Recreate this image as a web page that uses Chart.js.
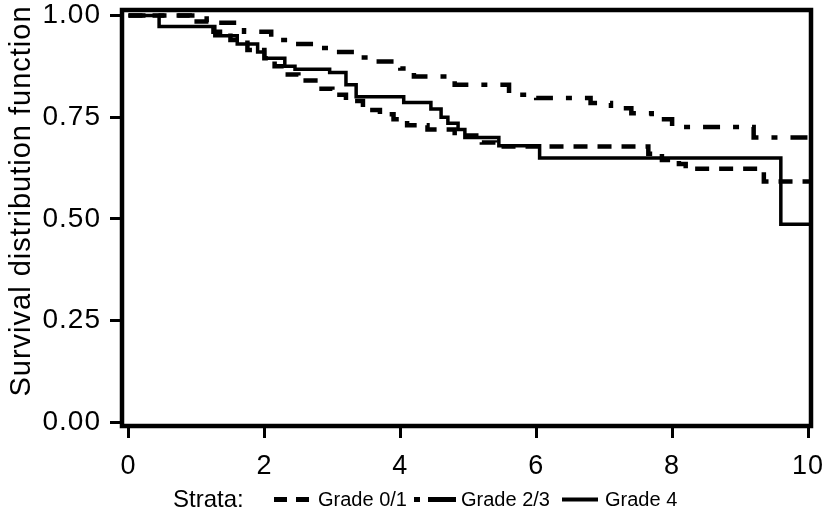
<!DOCTYPE html>
<html>
<head>
<meta charset="utf-8">
<script src="https://cdn.jsdelivr.net/npm/chart.js@4.4.1/dist/chart.umd.min.js"></script>
<style>
  body { margin: 0; background: #fff; }
  #wrap { position: relative; width: 822px; height: 516px; font-family: "Liberation Sans", Arial, Helvetica, sans-serif; color: #000; }
  .lg { position: absolute; top: 485px; height: 28px; line-height: 28px; white-space: nowrap; }
  .lg svg { display: block; margin-top: 12px; }
  #ytitle { position: absolute; left: -181px; top: 183px; width: 402px; height: 36px; line-height: 36px;
            text-align: center; font-size: 29px; letter-spacing: 1px; white-space: nowrap;
            transform: rotate(-90deg); transform-origin: 50% 50%; }
</style>
</head>
<body>
<div id="wrap">
  <canvas id="km" width="822" height="516"></canvas>
  <div id="ytitle">Survival distribution function</div>
  <div class="lg" style="left:173px; font-size:24px;">Strata:</div>
  <div class="lg" style="left:274px;"><svg width="40" height="5"><line x1="0" y1="2.5" x2="40" y2="2.5" stroke="#000" stroke-width="5" stroke-dasharray="13 9"/></svg></div>
  <div class="lg" style="left:318px; font-size:20px;">Grade 0/1</div>
  <div class="lg" style="left:414px;"><svg width="42" height="5"><line x1="0" y1="2.5" x2="42" y2="2.5" stroke="#000" stroke-width="5" stroke-dasharray="6 8 28 8"/></svg></div>
  <div class="lg" style="left:461px; font-size:20px;">Grade 2/3</div>
  <div class="lg" style="left:562px;"><svg width="36" height="5"><line x1="0" y1="2.5" x2="36" y2="2.5" stroke="#000" stroke-width="4"/></svg></div>
  <div class="lg" style="left:605px; font-size:20px;">Grade 4</div>
</div>
<script>
// Kaplan-Meier estimates (time, survival)
const grade01Time = [0, 0.9, 1.25, 1.5, 1.75, 2.0, 2.15, 2.3, 2.5, 2.75, 3.0, 3.2, 3.45, 3.7, 3.9, 4.1, 4.4, 4.8, 5.2, 5.4, 7.65, 7.85, 8.1, 8.2, 9.35, 10.05];
const grade01Surv = [1.0, 0.985, 0.96, 0.94, 0.915, 0.895, 0.875, 0.855, 0.84, 0.82, 0.805, 0.79, 0.768, 0.757, 0.745, 0.73, 0.72, 0.705, 0.688, 0.678, 0.66, 0.645, 0.635, 0.623, 0.592, 0.592];

const grade23Time = [0, 1.15, 1.7, 2.1, 2.4, 2.8, 3.1, 3.35, 3.6, 4.0, 4.2, 4.8, 5.6, 6.0, 6.8, 7.1, 7.4, 7.7, 8.0, 9.2, 10.05];
const grade23Surv = [1.0, 0.982, 0.96, 0.94, 0.93, 0.92, 0.91, 0.897, 0.887, 0.87, 0.85, 0.83, 0.805, 0.797, 0.785, 0.772, 0.76, 0.745, 0.726, 0.70, 0.70];

const grade4Time = [0, 0.45, 1.27, 1.6, 1.9, 2.0, 2.3, 2.45, 2.96, 3.2, 3.35, 4.05, 4.45, 4.6, 4.7, 4.85, 4.95, 5.45, 6.05, 9.6, 10.05];
const grade4Surv = [1.0, 0.973, 0.95, 0.93, 0.91, 0.895, 0.875, 0.868, 0.86, 0.83, 0.80, 0.786, 0.77, 0.75, 0.735, 0.72, 0.70, 0.68, 0.65, 0.487, 0.487];

const xTicks = [0, 2, 4, 6, 8, 10];
const yTicks = [0, 0.25, 0.5, 0.75, 1.0];

const FONT = '"Liberation Sans", Arial, Helvetica, sans-serif';

function toPoints(times, surv) {
    return times.map((t, i) => ({ x: t, y: surv[i] }));
}

// box round the plot area, and slightly wider tick text
const framePlugin = {
    id: 'frame',
    beforeDraw(chart) {
        chart.ctx.letterSpacing = '1px';
    },
    afterDatasetsDraw(chart) {
        const a = chart.chartArea;
        const ctx = chart.ctx;
        ctx.save();
        ctx.lineWidth = 4.5;
        ctx.strokeStyle = '#000';
        ctx.strokeRect(a.left, a.top, a.right - a.left, a.bottom - a.top);
        ctx.restore();
    }
};

// no extra room for overhanging tick labels
function noPad(s) {
    s.paddingLeft = 0;
    s.paddingRight = 0;
    s.paddingTop = 0;
    s.paddingBottom = 0;
}

const ctx = document.getElementById('km').getContext('2d');
new Chart(ctx, {
    type: 'line',
    data: {
        datasets: [
            {
                label: 'Grade 0/1',
                data: toPoints(grade01Time, grade01Surv),
                borderColor: '#000',
                borderDash: [14, 10],
                borderWidth: 4.5
            },
            {
                label: 'Grade 2/3',
                data: toPoints(grade23Time, grade23Surv),
                borderColor: '#000',
                borderDash: [17, 13, 6, 13],
                borderWidth: 4.5
            },
            {
                label: 'Grade 4',
                data: toPoints(grade4Time, grade4Surv),
                borderColor: '#000',
                borderWidth: 3.5
            }
        ]
    },
    options: {
        responsive: false,
        animation: false,
        devicePixelRatio: 1,
        layout: { padding: { top: 10, right: 11, left: 0, bottom: 0 } },
        datasets: {
            line: {
                stepped: 'before',
                pointRadius: 0,
                fill: false,
                borderCapStyle: 'butt',
                borderJoinStyle: 'miter'
            }
        },
        plugins: {
            colors: { enabled: false },
            legend: { display: false },
            tooltip: { enabled: false }
        },
        scales: {
            x: {
                type: 'linear',
                min: -0.096,
                max: 10.044,
                afterBuildTicks: s => { s.ticks = xTicks.map(v => ({ value: v })); },
                afterFit: s => { s.height = 90; noPad(s); },
                grid: { drawOnChartArea: false, tickLength: 12, tickWidth: 3, tickColor: '#000' },
                border: { display: false },
                ticks: {
                    color: '#000',
                    padding: 12,
                    maxRotation: 0,
                    autoSkip: false,
                    font: { family: FONT, size: 27 }
                }
            },
            y: {
                min: -0.009,
                max: 1.0135,
                afterBuildTicks: s => { s.ticks = yTicks.map(v => ({ value: v })); },
                afterFit: s => { s.width = 122; noPad(s); },
                grid: { drawOnChartArea: false, tickLength: 12, tickWidth: 3, tickColor: '#000' },
                border: { display: false },
                ticks: {
                    color: '#000',
                    padding: 9,
                    autoSkip: false,
                    callback: v => v.toFixed(2),
                    font: { family: FONT, size: 28 }
                }
            }
        }
    },
    plugins: [framePlugin]
});
</script>
</body>
</html>
